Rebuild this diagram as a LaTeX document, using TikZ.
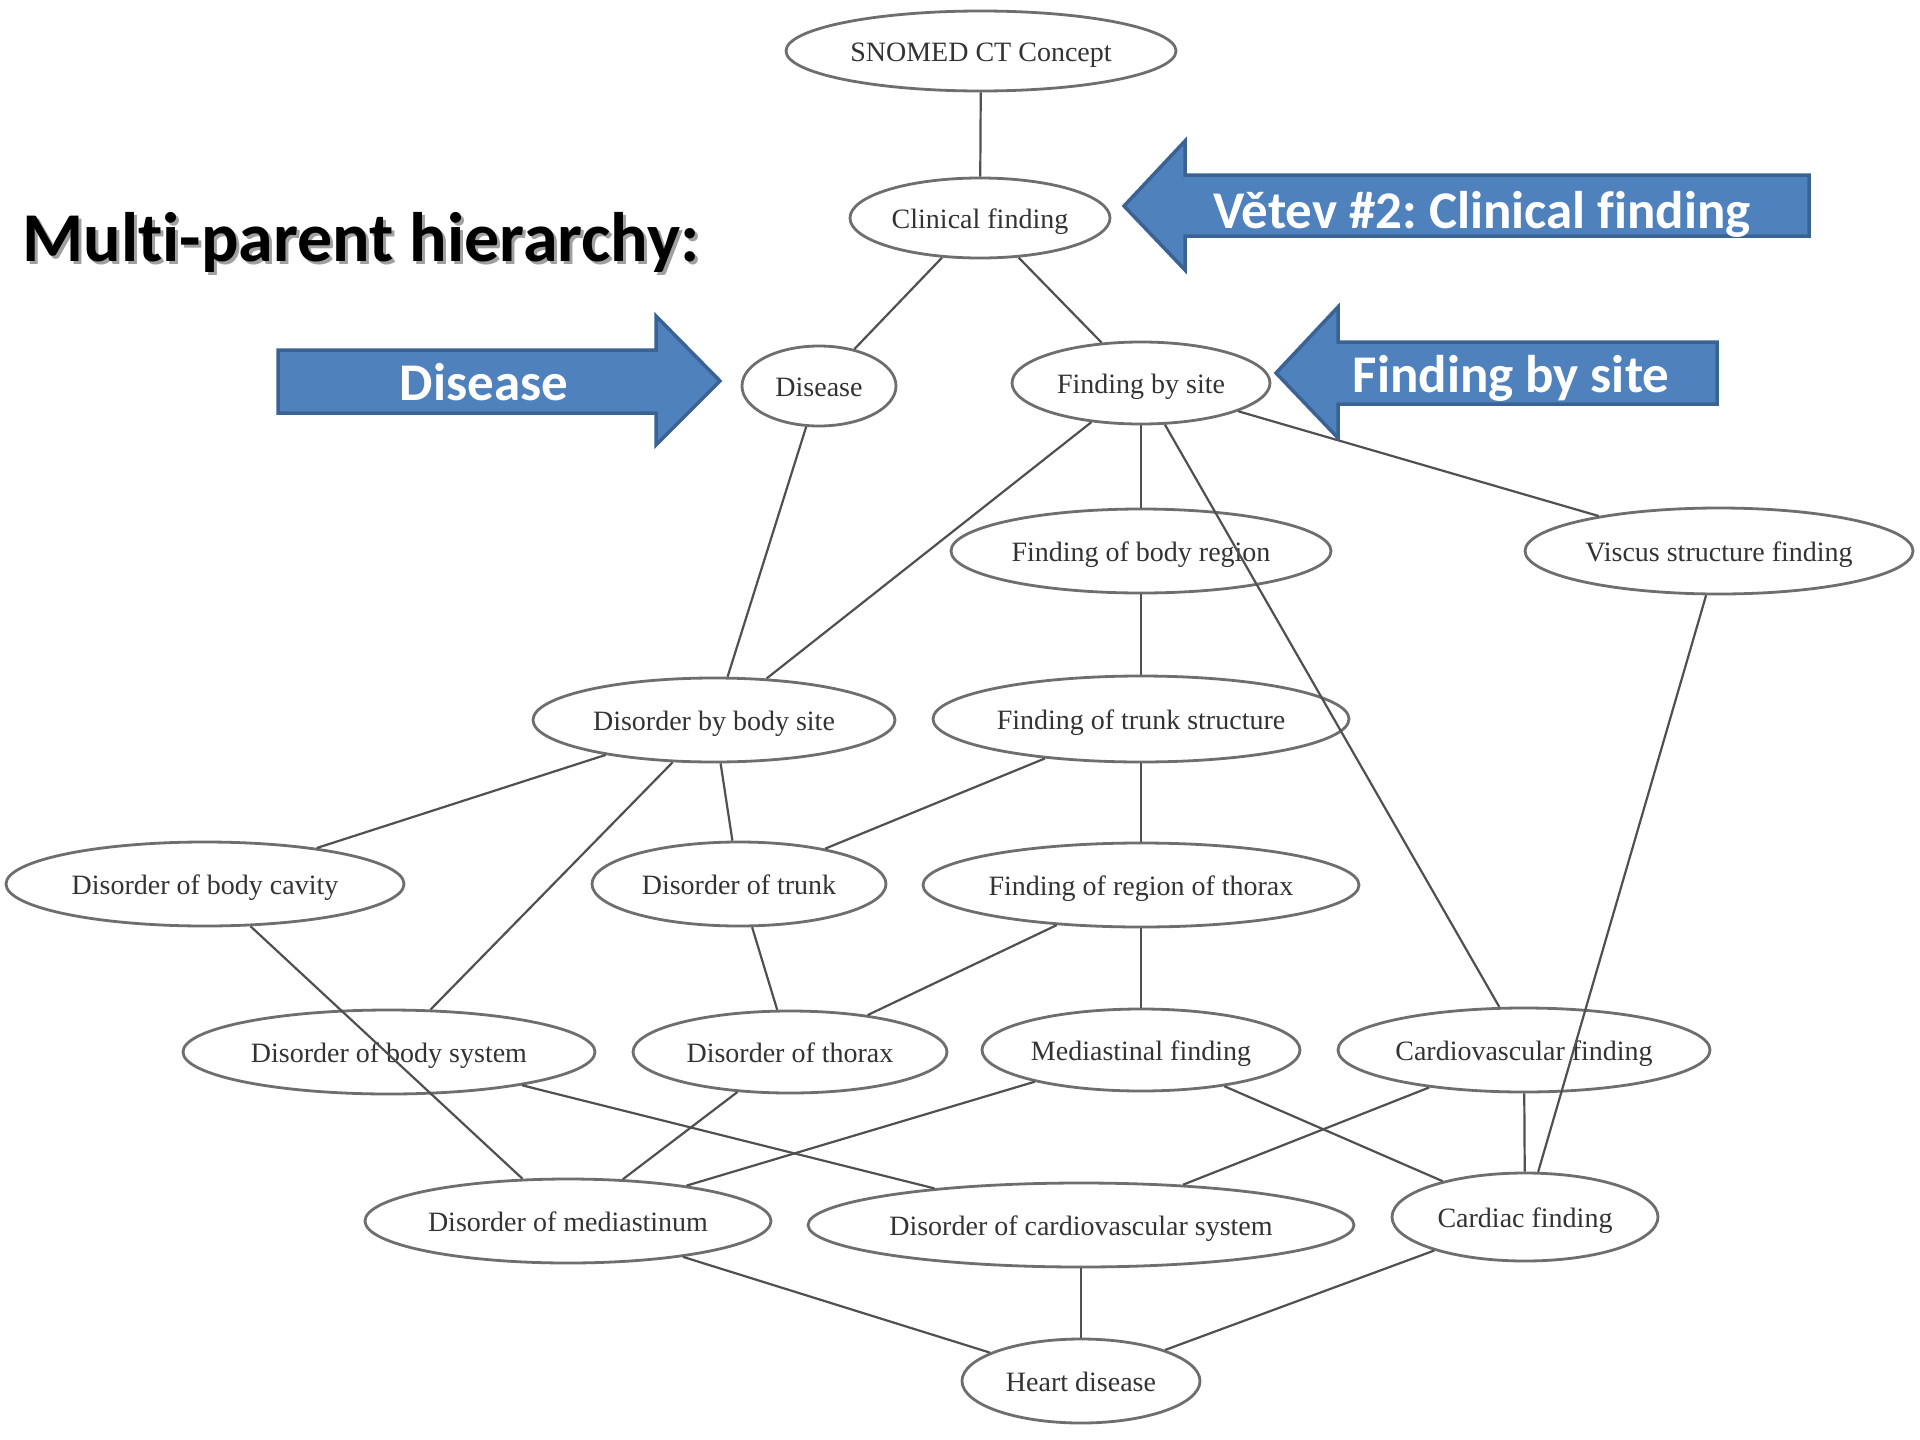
\documentclass[tikz,border=0pt]{standalone}
\usepackage{fontspec}
\setmainfont[Ligatures=NoCommon]{Liberation Serif}
\newfontfamily\calib[Ligatures=NoCommon]{Carlito}
\usetikzlibrary{shapes.geometric}
\definecolor{arrowfill}{HTML}{4F81BD}
\definecolor{arrowedge}{HTML}{3A6394}
\definecolor{nodeline}{HTML}{6E6E6E}
\definecolor{edgeline}{HTML}{505050}
\definecolor{nodetext}{HTML}{333333}
\definecolor{shadowgray}{HTML}{A0A0A0}
\begin{document}
\frenchspacing
\begin{tikzpicture}[x=1pt,y=-1pt,
  nd/.style={ellipse, draw=nodeline, line width=2.8pt, inner sep=0pt,
    text=nodetext, text height=21pt, text depth=0pt,
    font=\fontsize{28}{30}\selectfont},
  edge/.style={draw=edgeline, line width=2.2pt},
  bigarrow/.style={fill=arrowfill, draw=arrowedge, line width=3.5pt, line join=miter},
  arrowtext/.style={text=white, anchor=base, inner sep=0pt,
    font=\calib\bfseries\fontsize{53}{60}\selectfont},
  titletext/.style={anchor=base, inner sep=0pt,
    font=\calib\bfseries\fontsize{70}{76}\selectfont}]
\useasboundingbox (0,0) rectangle (1920,1440);
\fill[white] (0,0) rectangle (1920,1440);

% nodes
\node[nd, minimum width=390pt, minimum height=80pt] (snomed) at (981,51) {\makebox[0pt]{SNOMED CT Concept}};
\node[nd, minimum width=260pt, minimum height=80pt] (clin) at (980,218) {\makebox[0pt]{Clinical finding}};
\node[nd, minimum width=154pt, minimum height=80pt] (dis) at (819,386) {\makebox[0pt]{Disease}};
\node[nd, minimum width=258pt, minimum height=82pt] (fbs) at (1141,383) {\makebox[0pt]{Finding by site}};
\node[nd, minimum width=380pt, minimum height=84pt] (fbr) at (1141,551) {\makebox[0pt]{Finding of body region}};
\node[nd, minimum width=388pt, minimum height=86pt] (vsf) at (1719,551) {\makebox[0pt]{Viscus structure finding}};
\node[nd, minimum width=362pt, minimum height=84pt] (dbs) at (714,720) {\makebox[0pt]{Disorder by body site}};
\node[nd, minimum width=416pt, minimum height=86pt] (fts) at (1141,719) {\makebox[0pt]{Finding of trunk structure}};
\node[nd, minimum width=398pt, minimum height=84pt] (dbc) at (205,884) {\makebox[0pt]{Disorder of body cavity}};
\node[nd, minimum width=294pt, minimum height=84pt] (dtr) at (739,884) {\makebox[0pt]{Disorder of trunk}};
\node[nd, minimum width=436pt, minimum height=84pt] (frt) at (1141,885) {\makebox[0pt]{Finding of region of thorax}};
\node[nd, minimum width=412pt, minimum height=84pt] (dbsy) at (389,1052) {\makebox[0pt]{Disorder of body system}};
\node[nd, minimum width=314pt, minimum height=82pt] (dth) at (790,1052) {\makebox[0pt]{Disorder of thorax}};
\node[nd, minimum width=318pt, minimum height=82pt] (mf) at (1141,1050) {\makebox[0pt]{Mediastinal finding}};
\node[nd, minimum width=372pt, minimum height=84pt] (cvf) at (1524,1050) {\makebox[0pt]{Cardiovascular finding}};
\node[nd, minimum width=406pt, minimum height=84pt] (dme) at (568,1221) {\makebox[0pt]{Disorder of mediastinum}};
\node[nd, minimum width=546pt, minimum height=84pt] (dcs) at (1081,1225) {\makebox[0pt]{Disorder of cardiovascular system}};
\node[nd, minimum width=266pt, minimum height=88pt] (cf) at (1525,1217) {\makebox[0pt]{Cardiac finding}};
\node[nd, minimum width=238pt, minimum height=84pt] (hd) at (1081,1381) {\makebox[0pt]{Heart disease}};

% connectors
\draw[edge] (snomed) -- (clin);
\draw[edge] (clin) -- (dis);
\draw[edge] (clin) -- (fbs);
\draw[edge] (dis) -- (dbs);
\draw[edge] (fbs) -- (dbs);
\draw[edge] (fbs) -- (fbr);
\draw[edge] (fbs) -- (cvf);
\draw[edge] (fbs) -- (vsf);
\draw[edge] (fbr) -- (fts);
\draw[edge] (vsf) -- (cf);
\draw[edge] (dbs) -- (dbc);
\draw[edge] (dbs) -- (dtr);
\draw[edge] (dbs) -- (dbsy);
\draw[edge] (fts) -- (dtr);
\draw[edge] (fts) -- (frt);
\draw[edge] (dbc) -- (dme);
\draw[edge] (dtr) -- (dth);
\draw[edge] (frt) -- (dth);
\draw[edge] (frt) -- (mf);
\draw[edge] (dbsy) -- (dcs);
\draw[edge] (dth) -- (dme);
\draw[edge] (mf) -- (dme);
\draw[edge] (mf) -- (cf);
\draw[edge] (cvf) -- (dcs);
\draw[edge] (cvf) -- (cf);
\draw[edge] (dme) -- (hd);
\draw[edge] (dcs) -- (hd);
\draw[edge] (cf) -- (hd);

% title
\node[titletext, text=shadowgray] (titleshadow) at (364,264) {Multi-parent hierarchy:};
\node[titletext, text=black] (title) at (361,261) {Multi-parent hierarchy:};

% block arrows
\draw[bigarrow] (278,350) -- (656,350) -- (656,316) -- (720,381) -- (656,445) -- (656,413) -- (278,413) -- cycle;
\node[arrowtext] (disarrow) at (484,400) {Disease};

\draw[bigarrow] (1276,373) -- (1338,307) -- (1338,342) -- (1717,342) -- (1717,404) -- (1338,404) -- (1338,438) -- cycle;
\node[arrowtext] (fbsarrow) at (1511,392) {Finding by site};

\draw[bigarrow] (1124,206) -- (1185,141) -- (1185,175) -- (1809,175) -- (1809,236) -- (1185,236) -- (1185,270) -- cycle;
\node[arrowtext] (clinarrow) at (1482,228) {Větev \#2: Clinical finding};
\end{tikzpicture}
\end{document}
